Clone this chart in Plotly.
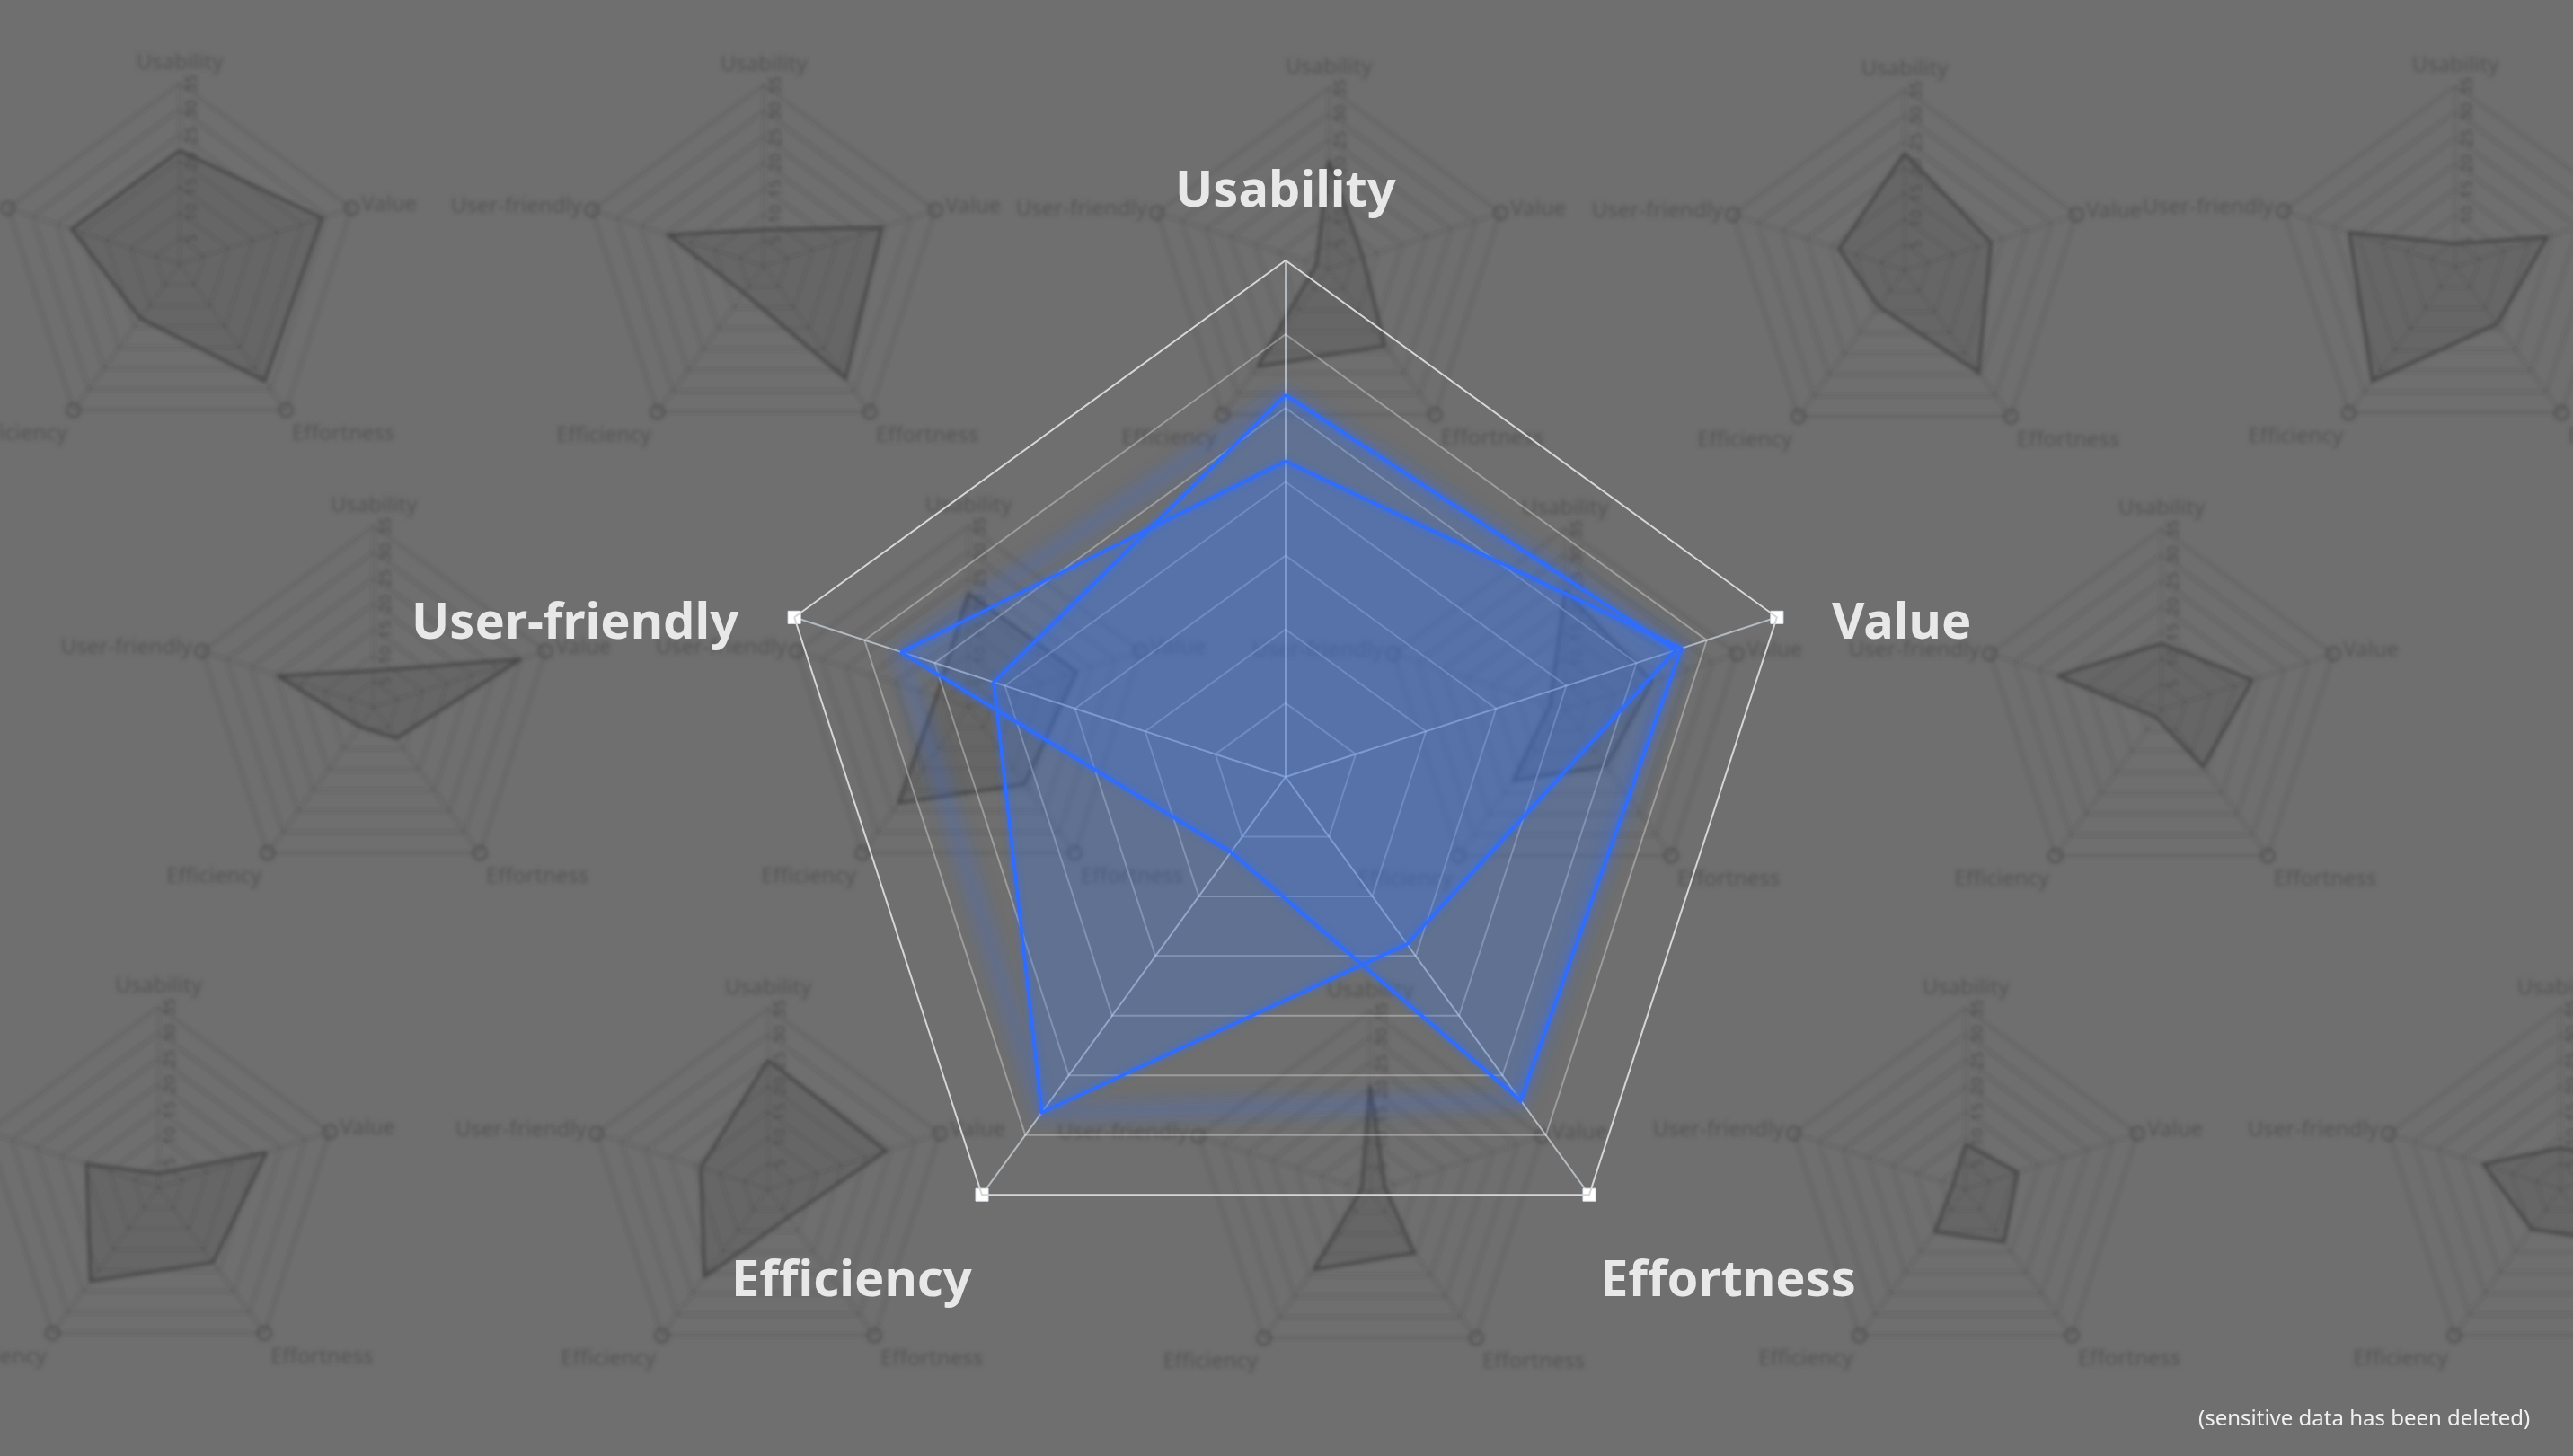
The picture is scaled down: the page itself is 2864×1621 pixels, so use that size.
import numpy as np
import plotly.graph_objects as go

# ---------------- data ----------------
categories = ["Usability", "Value", "Effortness", "Efficiency", "User-friendly"]
radial_ticks = [5, 10, 15, 20, 25, 30, 35]
r_max = 35

series_a = [25.9, 27.8, 14.0, 28.1, 20.8]
series_b = [21.4, 28.2, 27.1, 6.3, 27.4]

# faded background radar charts (values in category order)
bg_01 = [22.0, 29.0, 28.0, 13.0, 22.0]
bg_02 = [7.0, 24.0, 27.0, 6.5, 19.5]
bg_03 = [21.0, 7.0, 18.5, 23.5, 2.5]
bg_04 = [22.7, 17.6, 24.4, 8.6, 13.4]
bg_05 = [4.5, 18.8, 13.7, 27.3, 21.6]
bg_06 = [7.0, 30.0, 7.5, 4.7, 19.5]
bg_07 = [22.0, 22.0, 18.5, 23.0, 6.5]
bg_08 = [23.0, 17.7, 13.5, 17.0, 3.0]
bg_09 = [12.8, 18.5, 13.7, 1.8, 21.2]
bg_10 = [2.7, 22.0, 18.0, 22.5, 14.7]
bg_11 = [25.0, 24.0, 6.7, 21.0, 13.7]
bg_12 = [20.7, 3.0, 14.6, 18.6, 1.7]
bg_13 = [8.7, 10.6, 12.6, 10.2, 2.6]
bg_14 = [8.0, 16.0, 12.0, 9.5, 15.7]
bg_series = [bg_01, bg_02, bg_03, bg_04, bg_05, bg_06, bg_07,
             bg_08, bg_09, bg_10, bg_11, bg_12, bg_13, bg_14]

main_labels = categories
footnote = "(sensitive data has been deleted)"

# ---------------- layout geometry (screen pixels) ----------------
VIEW_W, VIEW_H = 2864, 1621
OFF = 24                      # plot is shifted left by this many px
FIG_W = 3090
FIG_H = VIEW_H
BG_R = 201
bg_centers = [(200, 294), (850, 296), (1479, 299), (2120, 301), (2733, 297),
              (416, 787), (1078, 787), (1742, 790), (2406, 790),
              (176, 1322), (855, 1324), (1525, 1327), (2188, 1324), (2850, 1324)]
MAIN_C = (1431, 865)
MAIN_R = 575

BG = "#6f6f6f"
BLUE = "#2f6dff"
FONT = "Noto Sans"


def domain(cx, cy, r):
    x0 = max(0.0, (cx + OFF - r) / FIG_W)
    x1 = min(1.0, (cx + OFF + r) / FIG_W)
    y0 = max(0.0, 1 - (cy + r) / FIG_H)
    y1 = min(1.0, 1 - (cy - r) / FIG_H)
    return dict(x=[x0, x1], y=[y0, y1])


def px(x):
    return (x + OFF) / FIG_W


def py(y):
    return 1 - y / FIG_H


def closed(v):
    return list(v) + [v[0]]


theta_closed = closed(categories)

fig = go.Figure()
layout_polars = {}

# background radars
for i, vals in enumerate(bg_series):
    sid = "polar" if i == 0 else f"polar{i + 1}"
    fig.add_trace(go.Scatterpolar(
        r=closed(vals), theta=theta_closed, subplot=sid, mode="lines",
        fill="toself", fillcolor="rgba(45,45,45,0.13)",
        line=dict(color="#474747", width=3.5), hoverinfo="skip", showlegend=False))
    fig.add_trace(go.Scatterpolar(
        r=[r_max] * 4, theta=categories[1:], subplot=sid, mode="markers",
        marker=dict(symbol="circle-open", size=15, color="#565656",
                    line=dict(width=3, color="#565656")),
        cliponaxis=False, hoverinfo="skip", showlegend=False))
    cx, cy = bg_centers[i]
    layout_polars[sid] = dict(
        domain=domain(cx, cy, BG_R), bgcolor="rgba(0,0,0,0)", gridshape="linear",
        angularaxis=dict(
            categoryorder="array", categoryarray=categories,
            rotation=90, direction="clockwise",
            showline=True, linecolor="rgba(60,60,60,0.4)", linewidth=1.5,
            showgrid=True, gridcolor="rgba(60,60,60,0.25)", gridwidth=1.5,
            ticks="outside", ticklen=6, tickcolor="rgba(0,0,0,0)",
            tickfont=dict(family=FONT, size=24, color="#545454")),
        radialaxis=dict(
            range=[0, r_max], tickvals=radial_ticks, angle=90, tickangle=0,
            showline=False, ticks="", showgrid=True,
            gridcolor="rgba(60,60,60,0.25)", gridwidth=1.5,
            tickfont=dict(family=FONT, size=18, color="#4c4c4c")),
    )

# main radar (drawn last, on top)
MID = "polar15"
envelope = np.maximum(np.array(series_a), np.array(series_b)).tolist()
fig.add_trace(go.Scatterpolar(
    r=closed(envelope), theta=theta_closed, subplot=MID, mode="lines",
    line=dict(color="rgba(50,105,255,0.30)", width=14),
    hoverinfo="skip", showlegend=False))
for vals in (series_a, series_b):
    fig.add_trace(go.Scatterpolar(
        r=closed(vals), theta=theta_closed, subplot=MID, mode="none",
        fill="toself", fillcolor="rgba(60,118,232,0.28)",
        hoverinfo="skip", showlegend=False))
for vals in (series_a, series_b):
    fig.add_trace(go.Scatterpolar(
        r=closed(vals), theta=theta_closed, subplot=MID, mode="lines",
        line=dict(color=BLUE, width=3.5), hoverinfo="skip", showlegend=False))
fig.add_trace(go.Scatterpolar(
    r=[r_max] * 4, theta=categories[1:], subplot=MID, mode="markers",
    marker=dict(symbol="square", size=14, color="white",
                line=dict(width=1, color="#dfe6ee")),
    cliponaxis=False, hoverinfo="skip", showlegend=False))

layout_polars[MID] = dict(
    domain=domain(MAIN_C[0], MAIN_C[1], MAIN_R), bgcolor="rgba(0,0,0,0)",
    gridshape="linear",
    angularaxis=dict(
        categoryorder="array", categoryarray=categories,
        rotation=90, direction="clockwise",
        showline=True, linecolor="#d6d6d6", linewidth=2,
        showgrid=True, gridcolor="rgba(225,232,242,0.62)", gridwidth=1.6,
        showticklabels=False, ticks=""),
    radialaxis=dict(
        range=[0, r_max], tickvals=radial_ticks, angle=90,
        showline=False, ticks="", showticklabels=False, showgrid=True,
        gridcolor="rgba(255,255,255,0.32)", gridwidth=1.5),
)

# main axis labels (text positions in screen px)
label_pos = {
    "Usability": (1431, 208, "center", "middle"),
    "Value": (2037, 689, "left", "middle"),
    "User-friendly": (824, 689, "right", "middle"),
    "Efficiency": (1084, 1421, "right", "middle"),
    "Effortness": (1779, 1421, "left", "middle"),
}
annotations = []
for name in main_labels:
    x, y, xa, ya = label_pos[name]
    annotations.append(dict(
        text=name, x=px(x), y=py(y), xref="paper", yref="paper",
        xanchor=xa, yanchor=ya, showarrow=False,
        font=dict(family=FONT, size=56, color="#e8e8e8", weight=700)))
annotations.append(dict(
    text=footnote, x=px(2818), y=py(1577), xref="paper", yref="paper",
    xanchor="right", yanchor="middle", showarrow=False,
    font=dict(family=FONT, size=24, color="#f0f0f0")))

fig.update_layout(
    template="none", width=FIG_W, height=FIG_H, autosize=False,
    margin=dict(l=0, r=0, t=0, b=0, pad=0),
    paper_bgcolor=BG, plot_bgcolor=BG, showlegend=False,
    annotations=annotations, **layout_polars)

post = """
var gd = document.getElementById('{plot_id}');
var de = document.documentElement;
de.style.margin='0'; de.style.padding='0'; de.style.overflow='hidden'; de.style.background='%s';
document.body.style.margin='0'; document.body.style.padding='0'; document.body.style.overflow='hidden';
document.body.style.background='%s';
var wrap = gd.parentElement;
wrap.style.width='%dpx'; wrap.style.height='%dpx'; wrap.style.overflow='hidden'; wrap.style.position='relative';
gd.style.position='absolute'; gd.style.left='-%dpx'; gd.style.top='0px';
try {
  var ns='http://www.w3.org/2000/svg';
  var svg = gd.querySelector('svg.main-svg');
  var defs = svg.querySelector('defs');
  if(!defs){ defs=document.createElementNS(ns,'defs'); svg.insertBefore(defs, svg.firstChild); }
  function mk(id, sd, merge){
    var f=document.createElementNS(ns,'filter'); f.setAttribute('id',id);
    f.setAttribute('x','-20%%'); f.setAttribute('y','-20%%'); f.setAttribute('width','140%%'); f.setAttribute('height','140%%');
    var b=document.createElementNS(ns,'feGaussianBlur'); b.setAttribute('in','SourceGraphic');
    b.setAttribute('stdDeviation',sd); b.setAttribute('result','blur'); f.appendChild(b);
    if(merge){ var m=document.createElementNS(ns,'feMerge');
      ['blur','SourceGraphic'].forEach(function(n){ var mn=document.createElementNS(ns,'feMergeNode'); mn.setAttribute('in',n); m.appendChild(mn); });
      f.appendChild(m); }
    defs.appendChild(f);
  }
  mk('bgblur', 2.0, false); mk('glow', 3.5, true); mk('softblur', 9, false);
  gd.querySelectorAll('.polarlayer > g').forEach(function(g){
    if(g.getAttribute('class')!=='polar15'){ g.setAttribute('filter','url(#bgblur)'); }
  });
  var main = gd.querySelector('.polarlayer > g.polar15');
  if(main){
    var tr = main.querySelectorAll('.scatterlayer .trace');
    if(tr.length>=5){
      tr[0].setAttribute('filter','url(#softblur)');
      tr[3].setAttribute('filter','url(#glow)');
      tr[4].setAttribute('filter','url(#glow)');
    }
  }
} catch(e) { console.log(e); }
""" % (BG, BG, VIEW_W, VIEW_H, OFF)

fig.write_html("out.html", config={"displayModeBar": False}, post_script=post)
